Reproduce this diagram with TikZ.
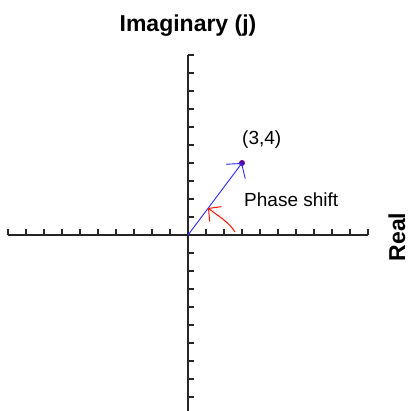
\documentclass[tikz,border=0pt]{standalone}
\usepackage{fontspec}
\setmainfont{Liberation Sans}
\usetikzlibrary{arrows.meta}
\begin{document}
\begin{tikzpicture}[x=1pt,y=-1pt,
  axis/.style={draw=black!85,line width=1.6pt},
  tickmk/.style={draw=black!85,line width=1.4pt},
  vec/.style={draw=blue!85!white,line width=0.9pt,-{Straight Barb[length=10pt,width=24pt]}},
  phasearrow/.style={draw=red!85!orange,line width=1pt,-{Straight Barb[length=9pt,width=19pt]}},
  title/.style={font=\fontsize{23}{26}\selectfont\bfseries,inner sep=0pt},
  lbl/.style={font=\fontsize{19}{22}\selectfont,inner sep=0pt}]
\useasboundingbox (0,0) rectangle (410,411);
\fill[white] (0,0) rectangle (410,411);
\coordinate (o) at (188,235);
% axes
\draw[axis] (8,235) -- (368,235);
\draw[axis] (188,55) -- (188,411);
% horizontal ticks
\foreach \k in {-10,...,-1,1,2,...,10}
  \draw[tickmk] (188+18*\k,235) -- ++(0,-6);
% vertical ticks
\foreach \k in {-9,...,-1,1,2,...,10}
  \draw[tickmk] (188,235-18*\k) -- ++(6,0);
% labels
\node[title,anchor=base] (im) at (188,32) {Imaginary (j)};
\node[title,rotate=90,anchor=center] (re) at (397,237) {Real};
% vector
\node[circle,fill=violet!80!blue,inner sep=0pt,minimum size=6pt] (p) at (242,163) {};
\draw[vec] (o) -- (p.center);
\node[lbl,anchor=base west] (pl) at (242,145) {(3,4)};
\node[lbl,anchor=base west] (ps) at (244,207) {Phase shift};
% phase shift arrow
\coordinate (r1) at (235,232);
\coordinate (r2) at (208,208);
\draw[phasearrow] (r1) .. controls (229,222) and (218,216) .. (r2);
\end{tikzpicture}
\end{document}
